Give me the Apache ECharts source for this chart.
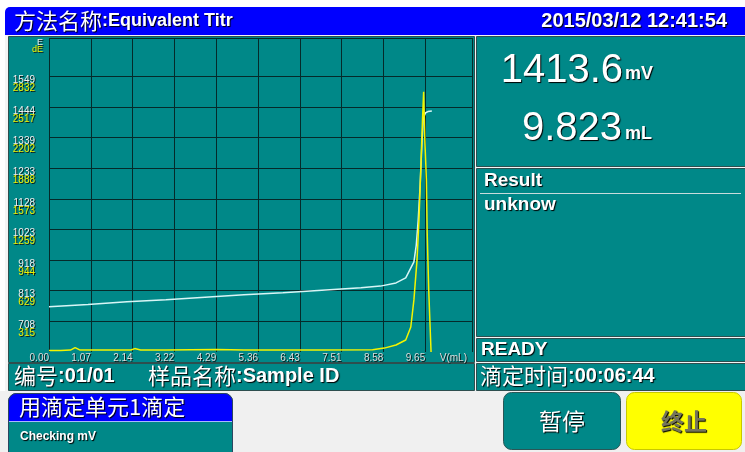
<!DOCTYPE html>
<html lang="zh-CN">
<head>
<meta charset="utf-8">
<title>Equivalent Titr</title>
<script src="https://cdn.jsdelivr.net/npm/echarts@6/dist/echarts.min.js"></script>
<style>
  html, body { margin: 0; padding: 0; background: #fff; }
  #main { width: 745px; height: 452px; }
</style>
</head>
<body>
<div id="main"></div>
<script>
// E curve: volume (mL) / potential (mV)
const eVol = [0, 1, 2, 3, 4, 5, 6, 7, 8, 8.5, 8.9, 9.15, 9.36, 9.42, 9.47, 9.52, 9.57, 9.60, 9.63, 9.66, 9.72, 9.82];
const eMv  = [758, 766, 775, 782, 791, 799, 806, 815, 823, 829, 840, 857, 912, 970, 1056, 1176, 1331, 1405, 1410, 1424, 1428, 1430];

// dE curve
const dVol = [0, 0.3, 0.55, 0.67, 0.8, 1.5, 2.1, 2.2, 2.35, 3.0, 4.3, 5.0, 7.0, 8.3, 8.6, 8.9, 9.15, 9.28, 9.36, 9.44, 9.49, 9.54, 9.58, 9.61, 9.64, 9.68, 9.70, 9.74, 9.80];
const dE   = [15, 15, 20, 45, 20, 20, 20, 35, 20, 20, 25, 20, 20, 22, 40, 72, 123, 257, 535, 946, 1357, 1923, 2386, 2674, 2180, 1769, 1234, 638, 0];

// tick labels
const xTicks  = ['0.00', '1.07', '2.14', '3.22', '4.29', '5.36', '6.43', '7.51', '8.58', '9.65', 'V(mL)'];
const eTicks  = [708, 813, 918, 1023, 1128, 1233, 1339, 1444, 1549];
const dETicks = [315, 629, 944, 1259, 1573, 1888, 2202, 2517, 2832];

const TEAL = '#008888';
const GL = '#052a2a';
const LAT = "'Liberation Sans', Arial, sans-serif";
const CJK = "'Noto Sans CJK SC', sans-serif";
// blur must be > 0 or zrender skips the text shadow
const SH = { textShadowColor: '#000', textShadowOffsetX: 1, textShadowOffsetY: 1, textShadowBlur: 1 };

const eMin = 602.91, eStep = 105.09, dStep = 314.67;
const span = 10.253;          // plot height measured in y steps
const xStep = 1.0722, xMax = 10.85;

const rich = {
  c:   Object.assign({ fill: '#fff', fontSize: 22, fontFamily: CJK }, SH),
  b:   Object.assign({ fill: '#fff', fontSize: 18, fontWeight: 'bold', fontFamily: LAT }, SH),
  b20: Object.assign({ fill: '#fff', fontSize: 20, fontWeight: 'bold', fontFamily: LAT }, SH)
};

function box(x, y, w, h, fill, r, stroke) {
  return { type: 'rect', z: -5, silent: true,
    shape: { x: x, y: y, width: w, height: h, r: r || 0 },
    style: { fill: fill, stroke: stroke || null, lineWidth: 1 } };
}
function txt(x, y, text, align) {
  return { type: 'text', z: 5, silent: true, x: x, y: y,
    style: { text: text, rich: rich, align: align || 'left', verticalAlign: 'middle' } };
}
function plain(x, y, text, size, weight, family, fill, align) {
  return { type: 'text', z: 5, silent: true, x: x, y: y,
    style: Object.assign({ text: text, fill: fill || '#fff', fontSize: size, fontWeight: weight,
      fontFamily: family, align: align || 'left', verticalAlign: 'middle' }, SH) };
}

const axisShadow = { textShadowColor: '#0a1a1a', textShadowOffsetX: 1, textShadowOffsetY: 1, textShadowBlur: 0.5 };

const chart = echarts.init(document.getElementById('main'));
chart.setOption({
  backgroundColor: '#ffffff',
  animation: false,
  grid: { left: 49, top: 38, width: 423, height: 314, show: false },
  xAxis: {
    type: 'value', min: 0, max: xMax, interval: xStep,
    axisLine: { show: false }, axisTick: { show: false },
    axisLabel: Object.assign({
      margin: 1, align: 'right', fontSize: 10, fontFamily: LAT, color: '#dcdcdc',
      formatter: function (v, i) { return xTicks[i] || ''; }
    }, axisShadow),
    splitLine: { show: true, showMinLine: true, showMaxLine: true,
      lineStyle: { width: 1, color: [GL, GL, GL, GL, GL, GL, GL, GL, GL, GL, 'transparent', GL] } }
  },
  yAxis: [{
    type: 'value', min: eMin, max: eMin + span * eStep, interval: eStep,
    axisLine: { show: false }, axisTick: { show: false },
    name: '{e|E}\n{d|dE}', nameLocation: 'end', nameGap: 0,
    nameTextStyle: { align: 'right', verticalAlign: 'top', padding: [1, 6, 0, 0],
      rich: {
        e: Object.assign({ color: '#f0f0f0', fontSize: 9, fontFamily: LAT, lineHeight: 7, align: 'right' }, axisShadow),
        d: Object.assign({ color: '#f0f000', fontSize: 9, fontFamily: LAT, lineHeight: 7, align: 'right' }, axisShadow)
      } },
    axisLabel: {
      margin: 14, verticalAlign: 'top',
      formatter: function (v, i) {
        return (i >= 1 && i <= eTicks.length) ? '{e|' + eTicks[i - 1] + '}\n{d|' + dETicks[i - 1] + '}' : '';
      },
      rich: {
        e: Object.assign({ color: '#f0f0f0', fontSize: 10, fontFamily: LAT, lineHeight: 8 }, axisShadow),
        d: Object.assign({ color: '#f0f000', fontSize: 10, fontFamily: LAT, lineHeight: 8 }, axisShadow)
      }
    },
    splitLine: { show: true, showMinLine: true, showMaxLine: true,
      lineStyle: { width: 1, color: ['transparent', GL, GL, GL, GL, GL, GL, GL, GL, GL, 'transparent', GL] } }
  }, {
    type: 'value', show: false, min: 0, max: span * dStep,
    splitLine: { show: false }
  }],
  series: [{
    type: 'line', name: 'E', yAxisIndex: 0, showSymbol: false,
    data: eVol.map(function (v, i) { return [v, eMv[i]]; }),
    lineStyle: { color: '#d8f6f6', width: 1.5 }
  }, {
    type: 'line', name: 'dE', yAxisIndex: 1, showSymbol: false,
    data: dVol.map(function (v, i) { return [v, dE[i]]; }),
    lineStyle: { color: '#f4f400', width: 1.5 }
  }],
  graphic: { elements: [
    // frame and panels
    box(5, 34, 740, 357, '#f4f4f4'),
    box(0, 391, 745, 61, '#f0f0f0'),
    box(5, 7, 740, 28, '#0000ff', [5, 0, 0, 0]),
    box(8.5, 36.5, 466, 326, TEAL, 0, '#2e4e4e'),
    box(476.5, 36.5, 270, 130, TEAL, 0, '#2e4e4e'),
    box(476.5, 168.5, 270, 168, TEAL, 0, '#2e4e4e'),
    box(476.5, 338.5, 270, 23, TEAL, 0, '#2e4e4e'),
    box(8.5, 363.5, 466, 27, TEAL, 0, '#2e4e4e'),
    box(476.5, 363.5, 270, 27, TEAL, 0, '#2e4e4e'),
    { type: 'line', z: -4, silent: true, shape: { x1: 480, y1: 193.5, x2: 741, y2: 193.5 },
      style: { stroke: '#c8dcdc', lineWidth: 1 } },
    // status box and buttons
    box(8.5, 393.5, 224, 70, TEAL, 8, '#2c4660'),
    box(8.5, 393.5, 224, 28, '#0000ff', [8, 8, 0, 0], '#2c4660'),
    { type: 'line', z: -4, silent: true, shape: { x1: 9, y1: 421.5, x2: 232, y2: 421.5 },
      style: { stroke: '#a8b8ff', lineWidth: 1 } },
    box(503.5, 392.5, 117, 57, TEAL, 8, '#2a5656'),
    box(626.5, 392.5, 115, 57, '#ffff00', 8, '#c8c800'),

    // texts
    txt(14, 21, '{c|方法名称}{b|:Equivalent Titr}'),
    txt(727, 21, '{b20|2015/03/12 12:41:54}', 'right'),
    plain(623, 71, '1413.6', 40, 'normal', LAT, '#fff', 'right'),
    plain(625, 74, 'mV', 18, 'bold', LAT),
    plain(622, 129, '9.823', 40, 'normal', LAT, '#fff', 'right'),
    plain(625, 134, 'mL', 18, 'bold', LAT),
    plain(484, 181, 'Result', 19, 'bold', LAT),
    plain(484, 205, 'unknow', 19, 'bold', LAT),
    plain(481, 350, 'READY', 19, 'bold', LAT),
    txt(14, 376, '{c|编号}{b20|:01/01}'),
    txt(148, 376, '{c|样品名称}{b20|:Sample ID}'),
    txt(480, 376, '{c|滴定时间}{b20|:00:06:44}'),
    plain(19, 407, '用滴定单元1滴定', 22, 'normal', CJK),
    plain(20, 437, 'Checking mV', 12, 'bold', LAT),
    plain(562, 421, '暂停', 23, 'normal', CJK, '#fff', 'center'),
    plain(684, 421, '终止', 23, 'bold', CJK, '#75755a', 'center')
  ] }
});
</script>
</body>
</html>
